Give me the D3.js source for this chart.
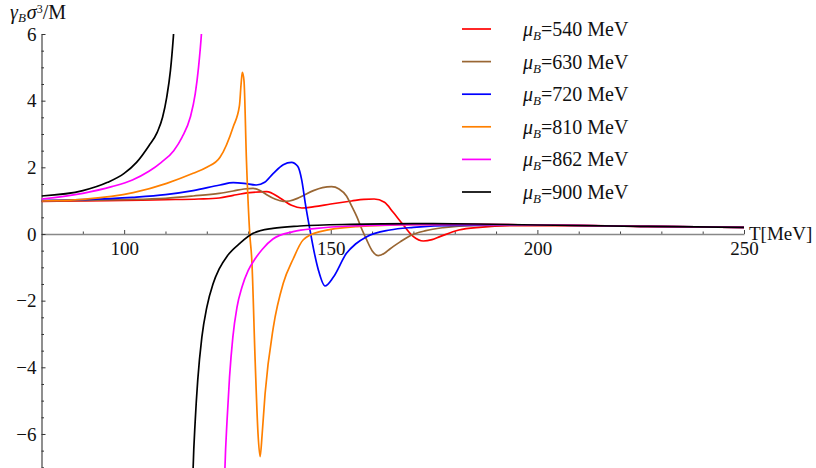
<!DOCTYPE html>
<html>
<head>
<meta charset="utf-8">
<script src="https://cdn.jsdelivr.net/npm/d3@7"></script>
<style>
  body { margin: 0; background: #fff; }
  svg text { font-family: "Liberation Serif", "Times New Roman", serif; }
</style>
</head>
<body>
<div id="chart"></div>
<script>
// [T in MeV, gamma_B sigma^3 / M]; null marks the pole break
var red540 = [[80,0.98],[90,0.99],[100,1.01],[110,1.03],[118,1.05],[123,1.08],[126.4,1.16],[130.4,1.24],[134.5,1.27],[137.7,1.08],[140.5,0.86],[143,0.78],[146,0.82],[150,0.9],[155,0.99],[158,1.04],[160.5,1.05],[163,0.95],[165.1,0.65],[167.5,0.28],[170,-0.08],[172.4,-0.21],[174.5,-0.17],[176.4,-0.08],[181,0.12],[186,0.2],[195,0.25],[210,0.25],[230,0.22],[250,0.2]];
var brown630 = [[80,1.0],[90,1.01],[100,1.03],[110,1.07],[116.7,1.14],[123,1.22],[126.4,1.29],[129,1.35],[131.2,1.37],[133,1.3],[134.5,1.18],[136.5,1.05],[138.5,0.98],[140,0.99],[142.5,1.1],[145.8,1.3],[148,1.39],[150.2,1.42],[152,1.35],[153.8,1.14],[155,0.85],[156.3,0.52],[157.5,0.15],[158.7,-0.18],[160,-0.5],[161.5,-0.65],[163,-0.58],[164.3,-0.45],[167,-0.22],[169.2,-0.05],[173,0.1],[177.2,0.19],[185,0.26],[200,0.27],[225,0.23],[250,0.2]];
var blue720 = [[80,1.0],[90,1.03],[102,1.1],[110,1.18],[116.7,1.3],[123.2,1.47],[126.4,1.54],[129,1.52],[132,1.47],[134,1.55],[136.1,1.82],[138.5,2.08],[140.5,2.15],[142,2.03],[143,1.6],[143.8,0.95],[145,0.1],[146,-0.55],[147,-1.08],[148.6,-1.56],[150.6,-1.3],[153.8,-0.58],[156,-0.3],[158.7,-0.08],[164.3,0.12],[170,0.2],[180,0.26],[200,0.27],[225,0.23],[250,0.2]];
var orange810 = [[80,0.99],[90,1.04],[102.2,1.24],[110.3,1.52],[116.7,1.82],[120,2.0],[123.2,2.3],[126.4,3.22],[127.9,3.85],[128.3,4.5],[128.6,4.85],[129,4.6],[129.6,2.2],[130.4,0.0],[130.9,-0.8],[131.7,-3.8],[132.4,-6.0],[132.9,-6.68],[133.4,-6.0],[134.1,-4.8],[136.1,-2.8],[138.5,-1.48],[140.9,-0.75],[143.3,-0.18],[147.4,0.07],[156.3,0.22],[170,0.28],[185,0.29],[200,0.27],[225,0.23],[250,0.2]];
var magenta862 = [[80,1.05],[90,1.22],[97,1.42],[102,1.62],[106,1.88],[109,2.15],[112,2.5],[114,2.9],[116,3.5],[117.2,4.2],[118,5.0],[118.7,6.0],[119.3,7.3],null,[124.2,-8],[124.4,-7.0],[124.9,-5.6],[125.5,-4.3],[126.3,-3.1],[127.3,-2.2],[128.5,-1.6],[130,-1.1],[131.5,-0.78],[133.5,-0.45],[136,-0.15],[140.9,0.07],[146.6,0.17],[155,0.24],[170,0.28],[185,0.29],[200,0.27],[225,0.23],[250,0.2]];
var black900 = [[80,1.14],[90,1.3],[96,1.55],[100,1.82],[103,2.15],[106,2.65],[108,3.05],[109.3,3.5],[110.3,4.1],[111.2,4.9],[111.9,5.9],[112.5,7.0],null,[116.5,-8],[116.7,-7.0],[117.2,-5.6],[117.8,-4.4],[118.8,-3.1],[120,-2.2],[121.5,-1.5],[123,-1.05],[125,-0.65],[128,-0.28],[131.2,0.02],[136,0.17],[142.5,0.24],[155,0.29],[170,0.31],[185,0.3],[200,0.27],[225,0.23],[250,0.2]];

var muValues = ["540", "630", "720", "810", "862", "900"];
var seriesData = [red540, brown630, blue720, orange810, magenta862, black900];
var colors = ["#ff0000", "#996633", "#0000ff", "#ff8000", "#ff00ff", "#000000"];

var xMajor = [100, 150, 200, 250];
var yMajor = [-6, -4, -2, 0, 2, 4, 6];

var W = 816, H = 468;
var x0 = 41.5, x1 = 744, yTop = 34, yBot = 467.3;
var serif = '"Liberation Serif", "Times New Roman", serif';

var svg = d3.select("#chart").append("svg")
    .attr("width", W)
    .attr("height", H);

var x = d3.scaleLinear().domain([80, 250]).range([x0, x1]);
var y = d3.scaleLinear().domain([-7, 6]).range([yBot, yTop]);

svg.append("defs").append("clipPath").attr("id", "plotclip")
    .append("rect")
    .attr("x", x0).attr("y", yTop)
    .attr("width", x1 - x0).attr("height", yBot - yTop + 2);

// x axis, minor ticks
var xMinor = d3.range(90, 251, 10).filter(function(v) { return xMajor.indexOf(v) < 0; });
svg.append("g")
    .attr("transform", "translate(0," + y(0) + ")")
    .call(d3.axisBottom(x).tickValues(xMinor).tickFormat("").tickSizeInner(-2.5).tickSizeOuter(0))
    .call(function(g) { g.select(".domain").remove(); g.selectAll("line").attr("stroke", "#444"); });

var xAxis = svg.append("g")
    .attr("transform", "translate(0," + y(0) + ")")
    .call(d3.axisBottom(x).tickValues(xMajor).tickSizeInner(-4).tickSizeOuter(0).tickPadding(7.5));
xAxis.attr("font-family", serif);
xAxis.select(".domain").attr("stroke", "#888").attr("stroke-width", 1.6);
xAxis.selectAll("line").attr("stroke", "#444");
xAxis.selectAll("text").style("font-size", "19px").style("font-family", serif).attr("fill", "#111");

// y axis
var yMinor = d3.range(-7, 6.01, 0.5).filter(function(v) { return yMajor.indexOf(v) < 0; });
svg.append("g")
    .attr("transform", "translate(" + x0 + ",0)")
    .call(d3.axisLeft(y).tickValues(yMinor).tickFormat("").tickSizeInner(-2.5).tickSizeOuter(0))
    .call(function(g) { g.select(".domain").remove(); g.selectAll("line").attr("stroke", "#333"); });

var yAxis = svg.append("g")
    .attr("transform", "translate(" + x0 + ",0)")
    .call(d3.axisLeft(y).tickValues(yMajor).tickSizeInner(-4).tickSizeOuter(0).tickPadding(5));
yAxis.attr("font-family", serif);
yAxis.select(".domain").attr("stroke", "#333").attr("stroke-width", 1.1);
yAxis.selectAll("line").attr("stroke", "#333");
yAxis.selectAll("text").style("font-size", "19px").style("font-family", serif).attr("fill", "#111");

// curves
var line = d3.line()
    .defined(function(d) { return d !== null; })
    .x(function(d) { return x(d[0]); })
    .y(function(d) { return y(d[1]); })
    .curve(d3.curveMonotoneX);

svg.append("g").attr("clip-path", "url(#plotclip)")
    .selectAll("path")
    .data(seriesData)
    .enter()
    .append("path")
    .attr("d", line)
    .attr("fill", "none")
    .attr("stroke", function(d, i) { return colors[i]; })
    .attr("stroke-width", 1.7)
    .attr("stroke-linejoin", "round");

// axis titles
var yTitle = svg.append("text")
    .attr("x", 10)
    .attr("y", 19)
    .style("font-size", "20px")
    .attr("fill", "#111");
yTitle.append("tspan").style("font-style", "italic").text("γ");
yTitle.append("tspan").style("font-style", "italic").style("font-size", "13px").attr("dy", 3).text("B");
yTitle.append("tspan").style("font-style", "italic").attr("dx", 1).attr("dy", -3).text("σ");
yTitle.append("tspan").style("font-size", "12px").attr("dy", -6).text("3");
yTitle.append("tspan").attr("dy", 6).text("/M");

svg.append("text")
    .attr("x", 749)
    .attr("y", 240)
    .style("font-size", "19px")
    .attr("fill", "#111")
    .text("T[MeV]");

// legend
var legend = svg.append("g");
muValues.forEach(function(mu, i) {
    var ly = 29 + i * 32.6;
    legend.append("line")
        .attr("x1", 462).attr("x2", 491)
        .attr("y1", ly).attr("y2", ly)
        .attr("stroke", colors[i])
        .attr("stroke-width", 1.7);
    var t = legend.append("text")
        .attr("x", 523)
        .attr("y", ly + 7)
        .style("font-size", "20px")
        .attr("fill", "#111");
    t.append("tspan").style("font-style", "italic").text("μ");
    t.append("tspan").style("font-style", "italic").style("font-size", "13px").attr("dy", 4).text("B");
    t.append("tspan").attr("dy", -4).text("=" + mu + " MeV");
});
</script>
</body>
</html>
